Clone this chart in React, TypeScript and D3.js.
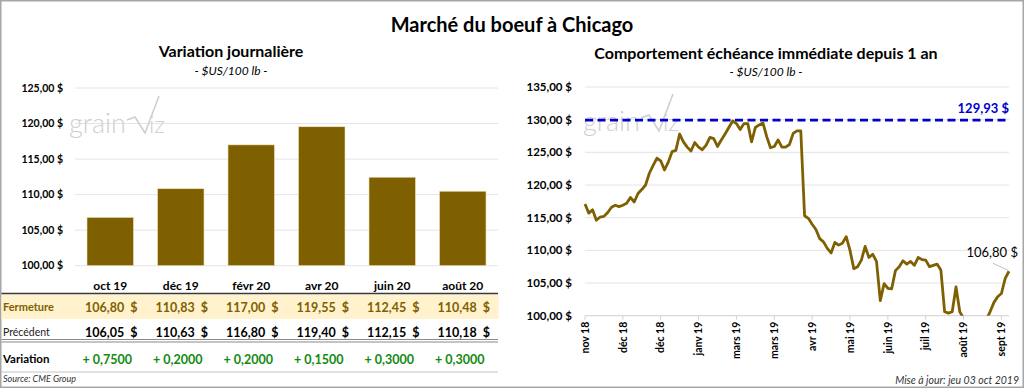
import React from 'react';
import * as d3 from 'd3';

// left chart: closing prices per contract month
const barCategories = ['oct 19', 'déc 19', 'févr 20', 'avr 20', 'juin 20', 'août 20'];
const closeValues = [106.8, 110.83, 117.0, 119.55, 112.45, 110.48];
const prevValues = [106.05, 110.63, 116.8, 119.4, 112.15, 110.18];
const changeValues = [0.75, 0.2, 0.2, 0.15, 0.3, 0.3];
const leftTicks = [100, 105, 110, 115, 120, 125];

// right chart: nearby contract over one year
const yearValues = [
  117.1, 115.7, 116.2, 114.6, 115.1, 115.2, 115.8, 116.6, 116.9, 116.7,
  116.9, 117.2, 118.1, 117.4, 118.7, 119.3, 120.0, 121.8, 123.0, 124.1,
  123.7, 122.3, 123.5, 125.1, 125.3, 127.8, 126.6, 125.8, 125.2, 126.5,
  125.8, 125.4, 126.1, 127.3, 127.1, 125.9, 126.9, 127.8, 128.8, 129.8,
  129.4, 128.5, 129.4, 129.4, 126.6, 128.8, 129.2, 129.5, 127.4, 125.7,
  125.9, 126.9, 125.8, 125.8, 126.2, 127.9, 128.3, 128.3, 115.3, 114.9,
  114.0, 113.2, 111.8, 111.3, 110.3, 109.6, 111.2, 110.8, 111.1, 112.1,
  110.0, 107.2, 107.5, 108.5, 110.6, 108.9, 109.4, 108.3, 102.3, 104.9,
  104.2, 104.1, 106.9, 107.5, 108.4, 107.9, 108.3, 107.7, 108.9, 108.6,
  108.5, 107.5, 107.7, 107.9, 107.0, 100.6, 100.4, 100.6, 104.4, 100.6,
  99.6, 98.5, 98.2, 98.0, 98.3, 98.8, 99.4, 100.6, 102.0, 102.9,
  103.4, 105.7, 106.8,
];
const yearTickLabels = [
  'nov 18', 'déc 18', 'déc 18', 'janv 19', 'mars 19', 'mars 19',
  'avr 19', 'mai 19', 'juin 19', 'juil 19', 'août 19', 'sept 19',
];
const rightTicks = [100, 105, 110, 115, 120, 125, 130, 135];
const yearHigh = 129.93;
const lastValue = 106.8;

const FONT = "Lato, 'Open Sans', sans-serif";
const BROWN = '#7F6000';

const fr = d3.formatLocale({ decimal: ',', thousands: ' ', grouping: [3], currency: ['', ' $'] });
const fmt2 = fr.format('.2f');
const fmt4 = fr.format('.4f');

const Watermark = ({ x, y }: { x: number; y: number }) => (
  <g fill="#cfcfcf" stroke="none" fontFamily={FONT}>
    <text x={x} y={y} fontSize={27} fontWeight={300}>grain</text>
    <path d={`M${x + 58},${y - 13} L${x + 66},${y - 16} L${x + 76},${y} L${x + 90},${y - 37}`} fill="none" stroke="#cfcfcf" strokeWidth={1.6} />
    <text x={x + 80} y={y} fontSize={24} fontWeight={300}>iz</text>
  </g>
);

export default function App() {
  // left chart scales
  const xBand = d3.scaleBand().domain(barCategories).range([75, 498]).paddingInner(0.34).paddingOuter(0.17);
  const yLeft = d3.scaleLinear().domain([100, 125]).range([265.7, 88]);
  const colCenter = (c: string) => (xBand(c) as number) + xBand.bandwidth() / 2;

  // right chart scales
  const xLine = d3.scaleLinear().domain([0, yearValues.length - 1]).range([585, 1009]);
  const yRight = d3.scaleLinear().domain([100, 135]).range([315.7, 87]);
  const line = d3.line<number>().x((_, i) => xLine(i)).y(d => yRight(d));
  const tickIdx = yearTickLabels.map((_, i) => i * 10);

  const lastX = xLine(yearValues.length - 1);
  const lastY = yRight(lastValue);

  return (
    <svg width={1024} height={388} style={{ position: 'absolute', left: 0, top: 0 }} fontFamily={FONT}>
      <defs>
        <clipPath id="plotClip">
          <rect x={580} y={80} width={440} height={yRight(100) - 80} />
        </clipPath>
      </defs>
      <rect x={0.75} y={0.75} width={1022.5} height={386.5} fill="#fff" stroke="#a6a6a6" strokeWidth={1.5} />

      <text x={512} y={32} textAnchor="middle" fontSize={20} fontWeight={700} fill="#000">Marché du boeuf à Chicago</text>

      {/* ---- left chart ---- */}
      <text x={231} y={57} textAnchor="middle" fontSize={16} fontWeight={700}>Variation journalière</text>
      <text x={231} y={75} textAnchor="middle" fontSize={12} fontStyle="italic">- $US/100 lb -</text>

      {leftTicks.map(t => (
        <g key={t}>
          <line x1={75} x2={498} y1={yLeft(t)} y2={yLeft(t)} stroke="#e4e4e4" strokeWidth={1} />
          <text x={63} y={yLeft(t)} dy="0.35em" textAnchor="end" fontSize={10.5} fontWeight={700} fill="#000">
            {fmt2(t)} $
          </text>
        </g>
      ))}
      <Watermark x={69} y={133} />
      {barCategories.map((c, i) => (
        <rect key={c} x={xBand(c)} y={yLeft(closeValues[i])} width={xBand.bandwidth()}
          height={yLeft(100) - yLeft(closeValues[i])} fill={BROWN} stroke="#f2e6c4" strokeWidth={0.6} />
      ))}
      {barCategories.map(c => (
        <text key={c} x={colCenter(c)} y={290} textAnchor="middle" fontSize={12} fontWeight={700}>{c}</text>
      ))}

      {/* table */}
      <rect x={1.5} y={294.5} width={497} height={24.5} fill="#FFF2CC" />
      <line x1={1.5} x2={498} y1={293.5} y2={293.5} stroke="#3a3a3a" strokeWidth={1.6} />
      <line x1={1.5} x2={498} y1={339.5} y2={339.5} stroke="#8a8a8a" strokeWidth={1.2} />
      <line x1={1.5} x2={498} y1={342} y2={342} stroke="#8a8a8a" strokeWidth={1.2} />
      <line x1={1.5} x2={498} y1={372} y2={372} stroke="#c4c4c4" strokeWidth={1} />

      <text x={3} y={311} fontSize={11} fontWeight={700} fill={BROWN}>Fermeture</text>
      <text x={3} y={336} fontSize={10.5} fill="#222">Précédent</text>
      <text x={3} y={363} fontSize={11.5} fontWeight={700} fill="#000">Variation</text>
      {barCategories.map((c, i) => (
        <g key={c}>
          <text x={colCenter(c) + 1} y={311.5} textAnchor="middle" fontSize={12.5} fontWeight={700} fill={BROWN} xmlSpace="preserve">
            {fmt2(closeValues[i])}{'\u00a0\u00a0'}$
          </text>
          <text x={colCenter(c) + 1} y={337} textAnchor="middle" fontSize={12.5} fontWeight={700} fill="#000" xmlSpace="preserve">
            {fmt2(prevValues[i])}{'\u00a0\u00a0'}$
          </text>
          <text x={colCenter(c) - 3} y={363.5} textAnchor="middle" fontSize={12.5} fontWeight={700} fill="#118a11">
            + {fmt4(changeValues[i])}
          </text>
        </g>
      ))}
      <text x={3} y={382} fontSize={9} fontStyle="italic" fill="#333">Source: CME Group</text>

      {/* ---- right chart ---- */}
      <text x={766} y={59} textAnchor="middle" fontSize={16} fontWeight={700}>Comportement échéance immédiate depuis 1 an</text>
      <text x={766} y={76} textAnchor="middle" fontSize={12} fontStyle="italic">- $US/100 lb -</text>

      {rightTicks.map(t => (
        <g key={t}>
          <line x1={585} x2={1009} y1={yRight(t)} y2={yRight(t)} stroke={t === 100 ? '#d0d0d0' : '#e4e4e4'} strokeWidth={1} />
          <text x={572} y={yRight(t)} dy="0.35em" textAnchor="end" fontSize={11.5} fontWeight={700} fill="#000">
            {fmt2(t)} $
          </text>
        </g>
      ))}
      <Watermark x={583} y={131} />
      {tickIdx.map((ti, i) => (
        <g key={i}>
          <line x1={xLine(ti)} x2={xLine(ti)} y1={yRight(100)} y2={yRight(100) + 4} stroke="#d0d0d0" />
          <text transform={`translate(${xLine(ti)},${yRight(100) + 6}) rotate(-90)`} dy="0.35em" textAnchor="end"
            fontSize={10.5} fontWeight={700} fill="#000">
            {yearTickLabels[i]}
          </text>
        </g>
      ))}

      <line x1={585} x2={1009} y1={yRight(yearHigh)} y2={yRight(yearHigh)} stroke="#0000CC" strokeWidth={2.6} strokeDasharray="8,4.5" />
      <text x={1009} y={112.5} textAnchor="end" fontSize={13} fontWeight={700} fill="#0000CC">{fmt2(yearHigh)} $</text>

      <path d={line(yearValues) as string} fill="none" stroke={BROWN} strokeWidth={2.8} strokeLinejoin="round" clipPath="url(#plotClip)" />

      <line x1={lastX - 16} y1={lastY - 8} x2={lastX - 1} y2={lastY - 1} stroke="#bfbfbf" strokeWidth={1} />
      <text x={1018} y={257} textAnchor="end" fontSize={13} fill="#000">{fmt2(lastValue)} $</text>

      <text x={1019} y={384} textAnchor="end" fontSize={10.5} fontStyle="italic" fill="#333">Mise à jour: jeu 03 oct 2019</text>
    </svg>
  );
}
